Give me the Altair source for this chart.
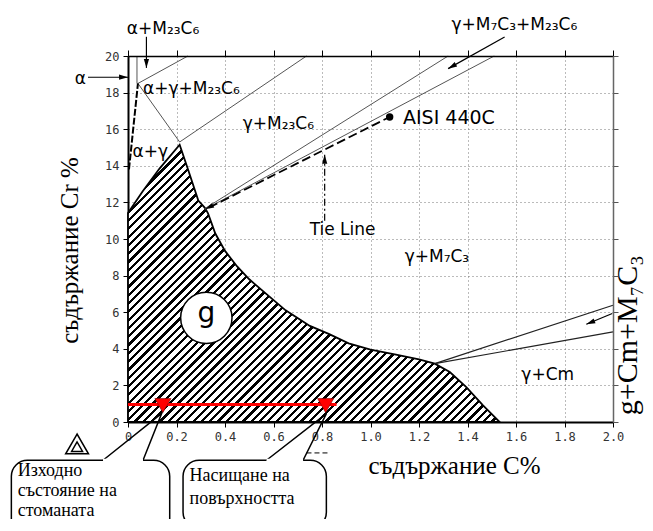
import altair as alt
import pandas as pd

# ---------------- layout ----------------
PW, PH = 485, 366
PAD_L, PAD_T = 120, 48
TOTAL_W, TOTAL_H = 637, 511

# ---------------- axis ticks ----------------
x_ticks = [0, 0.2, 0.4, 0.6, 0.8, 1.0, 1.2, 1.4, 1.6, 1.8, 2.0]
y_ticks = [0, 2, 4, 6, 8, 10, 12, 14, 16, 18, 20]

# ---------------- γ single-phase field (hatched), upper boundary ----------------
gamma_C = [0, 0.06, 0.13, 0.213, 0.25, 0.29, 0.317, 0.33, 0.36, 0.40, 0.45, 0.50,
           0.57, 0.65, 0.75, 0.83, 0.91, 1.0, 1.1, 1.2, 1.265, 1.327, 1.395, 1.464, 1.533]
gamma_Cr = [11.42, 12.6, 13.85, 15.15, 13.7, 12.1, 11.7, 11.4, 10.3, 9.35, 8.5, 7.8,
            7.0, 6.1, 5.25, 4.8, 4.3, 3.95, 3.7, 3.42, 3.19, 2.73, 1.91, 0.91, 0.0]

# ---------------- thin phase boundaries ----------------
gray_seg = ["b1", "b1", "b2", "b2", "b3", "b3", "b4", "b4", "b5", "b5", "b6", "b6"]
gray_C = [0.041, 0.213, 0.041, 0.247, 0.213, 0.736, 0.037, 0.037, 0.317, 1.32, 0.317, 1.51]
gray_Cr = [18.5, 15.3, 18.5, 20.0, 15.3, 20.0, 18.5, 20.0, 11.66, 20.0, 11.62, 20.0]

black_seg = ["c1", "c1", "c2", "c2"]
black_C = [1.265, 2.0, 1.265, 2.0]
black_Cr = [3.19, 6.38, 3.19, 4.92]

alpha_C = [0.041, 0.004]
alpha_Cr = [18.5, 13.8]

tie_C = [0.335, 1.079]
tie_Cr = [11.72, 16.67]
aisi_C, aisi_Cr = [1.079], [16.67]

# ---------------- annotation arrows ----------------
arrow_id = ["a1", "a1", "a2", "a2", "a3", "a3", "a4", "a4"]
arrow_C = [-0.165, 0.0, 0.076, 0.076, 1.553, 1.32, 1.997, 1.89]
arrow_Cr = [18.84, 18.84, 21.05, 19.35, 21.04, 19.31, 5.93, 5.34]
tiearrow_C = [0.811, 0.811]
tiearrow_Cr = [11.0, 14.6]
head_C = [0.0, 0.076, 1.32, 1.89, 0.811, 0.318]
head_Cr = [18.84, 19.35, 19.31, 5.34, 14.6, 11.63]
head_ang = [90, 180, 241, 248, 0, 244]

# ---------------- carburizing path ----------------
path_C = [0.0, 0.86]
path_Cr = [0.95, 0.95]
mark_C = [0.144, 0.815]
mark_Cr = [0.9, 0.9]

# ---------------- callouts ----------------
box_x = [-0.481, 0.227]
box_x2 = [0.172, 0.818]
box_y = [-2.09, -2.09]
box_y2 = [-6.8, -5.8]
tail_id = ["t1", "t1", "t1", "t2", "t2", "t2"]
tail_C = [-0.103, 0.139, 0.062, 0.571, 0.818, 0.722]
tail_Cr = [-2.09, 0.47, -2.09, -2.09, 0.46, -2.09]
cover_C = [-0.103, 0.571]
cover_C2 = [0.062, 0.722]
cover_Cr = [-2.09, -2.09]
call_text = ["Изходно", "състояние на", "стоманата", "Насищане на", "повърхността"]
call_C = [-0.455, -0.455, -0.455, 0.254, 0.254]
call_Cr = [-2.94, -4.03, -5.12, -3.25, -4.5]
short_C = [0.736, 0.832]
short_Cr = [-1.69, -1.69]

# ---------------- phase labels ----------------
lab_text = ["α+M₂₃C₆", "α", "α+γ+M₂₃C₆", "γ+M₂₃C₆", "α+γ", "Tie Line",
            "γ+M₇C₃", "γ+Cm", "γ+M₇C₃+M₂₃C₆"]
lab_C = [-0.005, -0.22, 0.062, 0.473, 0.019, 0.749, 1.141, 1.622, 1.334]
lab_Cr = [21.22, 18.49, 17.95, 16.03, 14.48, 10.2, 8.74, 2.32, 21.4]

xs = alt.Scale(domain=[0, 2], nice=False, zero=False)
ys = alt.Scale(domain=[0, 20], nice=False, zero=False)


def X(f, axis=None):
    return alt.X(f, type="quantitative", scale=xs, axis=axis)


def Y(f, axis=None):
    return alt.Y(f, type="quantitative", scale=ys, axis=axis)


x_axis = alt.Axis(values=x_ticks,
                  labelExpr="datum.value == 0 ? '0' : format(datum.value, '.1f')",
                  labelFont="DejaVu Sans Mono", labelFontSize=12, labelColor="#333",
                  labelPadding=4, labelFlush=False, labelOverlap=False,
                  tickSize=5, tickColor="black", domainColor="black", domainWidth=2,
                  grid=True, gridColor="#777", gridDash=[1, 3], gridWidth=1,
                  title="съдържание C%", titleFont="Liberation Serif", titleFontSize=25,
                  titleFontWeight="normal", titleColor="black", titleX=326, titleY=51,
                  titleAlign="center", titleBaseline="alphabetic")
y_axis = alt.Axis(values=y_ticks, format="d",
                  labelFont="DejaVu Sans Mono", labelFontSize=12, labelColor="#333",
                  labelPadding=4, labelFlush=False, labelOverlap=False,
                  tickSize=5, tickColor="black", domainColor="black", domainWidth=2,
                  grid=True, gridColor="#777", gridDash=[1, 3], gridWidth=1,
                  title="съдържание  Cr %", titleFont="Liberation Serif", titleFontSize=25,
                  titleFontWeight="normal", titleColor="black", titleX=-51, titleY=194,
                  titleAngle=270, titleAlign="center", titleBaseline="alphabetic")
top_axis = alt.Axis(orient="top", values=x_ticks, labels=False, ticks=True, tickSize=6,
                    tickColor="black", domainColor="black", domainWidth=1.5,
                    grid=False, title=None, zindex=1)
right_axis = alt.Axis(orient="right", values=y_ticks, labels=False, ticks=True, tickSize=5,
                      tickColor="#555", domainColor="#666", domainWidth=1.5,
                      grid=False, title=None, zindex=1)

# ---------------- hatch as a striped gradient (style only) ----------------
W = (gamma_C[-1] - 0) / 2 * PW
H = max(gamma_Cr) / 20 * PH
r = H / W
s = 1.2
period_px = 8.3
dt = period_px / (W * s * (1 + r * r))
stops = []
k = 0
while k * dt < 1:
    t0 = k * dt
    t1 = min(t0 + 0.38 * dt, 1)
    t2 = min((k + 1) * dt, 1)
    stops += [{"offset": t0, "color": "black"}, {"offset": t1, "color": "black"},
              {"offset": t1, "color": "white"}, {"offset": t2, "color": "white"}]
    k += 1
hatch_fill = {"gradient": "linear", "x1": 0, "y1": 0, "x2": s, "y2": s * r, "stops": stops}

gamma_df = pd.DataFrame({"C": gamma_C, "Cr": gamma_Cr})
hatch = alt.Chart(gamma_df).mark_area(fill=hatch_fill, stroke="black", strokeWidth=1.8).encode(
    x=X("C", x_axis), y=Y("Cr", y_axis), y2=alt.datum(0))

gray_df = pd.DataFrame({"s": gray_seg, "C": gray_C, "Cr": gray_Cr})
gray_lines = alt.Chart(gray_df).mark_line(color="#555", strokeWidth=1).encode(
    x=X("C", top_axis), y=Y("Cr", right_axis), detail="s:N")

black_df = pd.DataFrame({"s": black_seg, "C": black_C, "Cr": black_Cr})
black_lines = alt.Chart(black_df).mark_line(color="#222", strokeWidth=1.2).encode(
    x=X("C"), y=Y("Cr"), detail="s:N")

alpha_line = alt.Chart(pd.DataFrame({"C": alpha_C, "Cr": alpha_Cr})).mark_line(
    color="black", strokeWidth=2, strokeDash=[7, 2]).encode(x=X("C"), y=Y("Cr"))

tie_line = alt.Chart(pd.DataFrame({"C": tie_C, "Cr": tie_Cr})).mark_line(
    color="black", strokeWidth=1.8, strokeDash=[9, 4]).encode(x=X("C"), y=Y("Cr"))

aisi = alt.Chart(pd.DataFrame({"C": aisi_C, "Cr": aisi_Cr})).mark_point(
    filled=True, color="black", size=55, opacity=1).encode(x=X("C"), y=Y("Cr"))

arrows = alt.Chart(pd.DataFrame({"a": arrow_id, "C": arrow_C, "Cr": arrow_Cr})).mark_line(
    color="black", strokeWidth=1.2).encode(x=X("C"), y=Y("Cr"), detail="a:N")
tie_arrow = alt.Chart(pd.DataFrame({"C": tiearrow_C, "Cr": tiearrow_Cr})).mark_line(
    color="black", strokeWidth=1.2, strokeDash=[7, 3, 2, 3]).encode(x=X("C"), y=Y("Cr"))
heads = alt.Chart(pd.DataFrame({"C": head_C, "Cr": head_Cr, "ang": head_ang})).mark_point(
    shape="M0,0L-0.5,1.7L0.5,1.7Z", filled=True, color="black", size=110, opacity=1).encode(
    x=X("C"), y=Y("Cr"), angle=alt.Angle("ang", type="quantitative", scale=None))

circle = alt.Chart(pd.DataFrame({"C": [0.323], "Cr": [5.69]})).mark_point(
    shape="circle", filled=True, fill="white", stroke="black", strokeWidth=1.5,
    size=2640, opacity=1).encode(x=X("C"), y=Y("Cr"))
g_text = alt.Chart(pd.DataFrame({"t": ["g"], "C": [0.323], "Cr": [5.46]})).mark_text(
    font="DejaVu Sans", fontSize=28, align="center", baseline="alphabetic",
    color="black").encode(x=X("C"), y=Y("Cr"), text="t:N")

red_line = alt.Chart(pd.DataFrame({"C": path_C, "Cr": path_Cr})).mark_line(
    color="#ff0000", strokeWidth=3).encode(x=X("C"), y=Y("Cr"))
red_marks = alt.Chart(pd.DataFrame({"C": mark_C, "Cr": mark_Cr})).mark_point(
    shape="triangle-down", filled=True, fill="#ff0000", stroke="#700", strokeWidth=0.6,
    size=260, opacity=1).encode(x=X("C"), y=Y("Cr"))

boxes = alt.Chart(pd.DataFrame({"x": box_x, "x2": box_x2, "y": box_y, "y2": box_y2})).mark_rect(
    fill="white", stroke="black", strokeWidth=1.5, cornerRadius=16).encode(
    x=X("x"), x2="x2", y=Y("y"), y2="y2")
covers = alt.Chart(pd.DataFrame({"x": cover_C, "x2": cover_C2, "y": cover_Cr})).mark_rule(
    color="white", strokeWidth=3).encode(x=X("x"), x2="x2", y=Y("y"))
tails = alt.Chart(pd.DataFrame({"t": tail_id, "C": tail_C, "Cr": tail_Cr, "o": list(range(6))})).mark_line(
    color="black", strokeWidth=1.5).encode(x=X("C"), y=Y("Cr"), detail="t:N", order="o:Q")
short = alt.Chart(pd.DataFrame({"C": short_C, "Cr": short_Cr})).mark_line(
    color="black", strokeWidth=1, strokeDash=[5, 3]).encode(x=X("C"), y=Y("Cr"))
call_texts = alt.Chart(pd.DataFrame({"t": call_text, "C": call_C, "Cr": call_Cr})).mark_text(
    font="Liberation Serif", fontSize=18, align="left", baseline="alphabetic",
    color="black").encode(x=X("C"), y=Y("Cr"), text="t:N")

labels = alt.Chart(pd.DataFrame({"t": lab_text, "C": lab_C, "Cr": lab_Cr})).mark_text(
    font="DejaVu Sans", fontSize=17, align="left", baseline="alphabetic",
    color="black").encode(x=X("C"), y=Y("Cr"), text="t:N")
aisi_label = alt.Chart(pd.DataFrame({"t": ["AISI 440C"], "C": [1.134], "Cr": [16.3]})).mark_text(
    font="DejaVu Sans", fontSize=19, align="left", baseline="alphabetic",
    color="black").encode(x=X("C"), y=Y("Cr"), text="t:N")

right_label = alt.Chart(pd.DataFrame({"t": ["g+Cm+M₇C₃"], "C": [2.10], "Cr": [4.74]})).mark_text(
    font="Liberation Serif", fontSize=30, align="center", baseline="alphabetic", angle=270,
    color="black").encode(x=X("C"), y=Y("Cr"), text="t:N")

logo_df = pd.DataFrame({"C": [-0.21, -0.21], "Cr": [-1.2, -1.35], "sz": [520, 120]})
logo = alt.Chart(logo_df).mark_point(shape="triangle-up", filled=False, color="black",
                                     strokeWidth=1.5, opacity=1).encode(
    x=X("C"), y=Y("Cr"), size=alt.Size("sz", type="quantitative", scale=None))

chart = alt.layer(
    hatch, gray_lines, black_lines, alpha_line, tie_line, arrows, tie_arrow, heads, aisi,
    circle, g_text, tails, red_line, red_marks, boxes, covers, short, call_texts,
    labels, aisi_label, right_label, logo
).resolve_axis(x="independent", y="independent").properties(
    width=PW, height=PH,
    autosize=alt.AutoSizeParams(type="none"),
    padding={"left": PAD_L, "top": PAD_T, "right": TOTAL_W - PAD_L - PW,
             "bottom": TOTAL_H - PAD_T - PH},
).configure_view(stroke=None)

chart.save("out.html", embed_options={"renderer": "svg", "actions": False})
